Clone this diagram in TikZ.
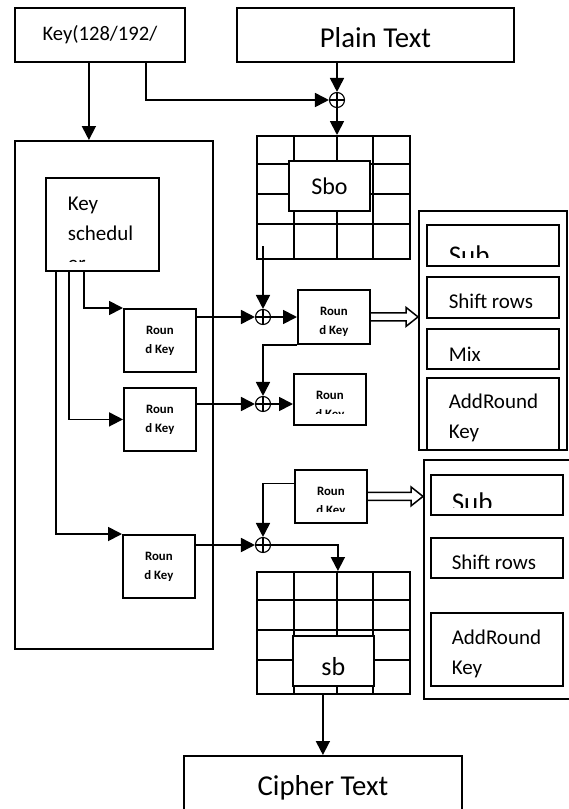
\documentclass[tikz,border=0pt]{standalone}
\usepackage{fontspec}
\setmainfont{Carlito}
\usetikzlibrary{arrows.meta, calc}

% text inside a box, cut off #2 above its lower edge, top left corner at (#3,#4) from the box corner
\newcommand\cliptext[5][10.5]{%
  \clip ([yshift=#2]path picture bounding box.south west) rectangle (path picture bounding box.north east);
  \node[anchor=north west, inner sep=0pt, minimum size=0pt, align=left, font=\fontsize{#1}{15}\selectfont]
    (lbl) at ($(path picture bounding box.north west)+(#3,-#4)$) {#5};}

% outlined block arrow from #1 to the edge #2
\newcommand\hollowarrow[2]{%
  \coordinate (hatip) at (#1 -| #2);
  \draw[line width=0.75pt] ($(#1)+(0,2pt)$) -- ($(hatip)+(-6pt,2pt)$) -- ($(hatip)+(-6pt,4.75pt)$)
    -- (hatip) -- ($(hatip)+(-6pt,-4.75pt)$) -- ($(hatip)+(-6pt,-2pt)$) -- ($(#1)+(0,-2pt)$);}

\begin{document}
\begin{tikzpicture}[x=0.5pt, y=-0.5pt, line width=0.9pt,
  arr/.style={-{Triangle[length=7pt, width=7pt]}},
  box/.style={draw, anchor=north west, inner sep=0pt},
  big/.style={box, minimum width=#1, minimum height=27pt, text height=12.5pt, text depth=0pt,
    font=\fontsize{14.4}{17}\selectfont},
  stage/.style={box, minimum width=66pt, minimum height=#1},
  rkey/.style={box, minimum width=36pt, path picture={
    \clip ([yshift=#1]path picture bounding box.south west) rectangle (path picture bounding box.north east);
    \node[anchor=north, inner sep=0pt, minimum size=0pt, align=center, font=\fontsize{6.4}{9.5}\selectfont\bfseries]
      (lbl) at ($(path picture bounding box.north)+(0,-8pt)$) {Roun\\d Key};}},
  rkey/.default=0pt,
  xor/.style={circle, draw, line width=0.55pt, minimum size=7.5pt, inner sep=0pt, path picture={
    \draw[line width=0.55pt] (path picture bounding box.north) -- (path picture bounding box.south)
      (path picture bounding box.west) -- (path picture bounding box.east);}}]

  \useasboundingbox (0,0) rectangle (568,809);

  % inputs
  \node[box, minimum width=85pt, minimum height=27pt, font=\fontsize{10.3}{12}\selectfont] (key) at (14,7) {Key(128/192/};
  \node[big=138.5pt] (plain) at (236,7) {Plain Text};

  % key schedule and its round keys
  \node[box, minimum width=99pt, minimum height=254pt] (ksframe) at (14,140) {};
  \node[box, minimum width=56.5pt, minimum height=46.5pt,
    path picture={\cliptext{4.5pt}{10.5pt}{9pt}{Key\\schedul\\er}}] (ks) at (45,177) {};
  \node[rkey, minimum height=31.5pt] (rk1) at (123,308) {};
  \node[rkey, minimum height=31.5pt] (rk2) at (123,387) {};
  \node[rkey, minimum height=31.5pt] (rk3) at (122,534) {};

  % state before the first round
  \node[box, minimum width=76.5pt, minimum height=61.5pt] (grid1) at (256,135) {};
  \foreach \cx in {294,337,373} \draw (\cx,135) -- (\cx,258);
  \foreach \cy in {164,194,224} \draw (256,\cy) -- (409,\cy);
  \node[box, fill=white, minimum width=40.5pt, minimum height=25pt, font=\fontsize{12}{14}\selectfont] (sbo) at (288,160) {Sbo};

  % state after the last round
  \node[box, minimum width=76.5pt, minimum height=61pt] (grid2) at (256,571) {};
  \foreach \cx in {294,337,373} \draw (\cx,571) -- (\cx,693);
  \foreach \cy in {600,630,660} \draw (256,\cy) -- (409,\cy);
  \node[box, fill=white, minimum width=40.5pt, minimum height=25pt, text height=14.4pt, text depth=0pt,
    font=\fontsize{13}{15}\selectfont] (sb) at (292,635) {sb};

  % xor points
  \node[xor] (x1) at (337,100) {};
  \node[xor] (x2) at (263,317) {};
  \node[xor] (x3) at (263,404) {};
  \node[xor] (x4) at (263,545) {};

  \node[rkey, minimum height=27pt] (rk4) at (297,289) {};
  \node[rkey=5.5pt, minimum height=25.5pt] (rk5) at (293,373) {};
  \node[rkey=5.5pt, minimum height=26.5pt] (rk6) at (294,469) {};

  % round steps
  \node[box, minimum width=74pt, minimum height=119.5pt] (p1) at (418,210) {};
  \node[stage=20.5pt, path picture={\cliptext[13.5]{4pt}{10.5pt}{10pt}{Sub}}] (sub1) at (426,224) {};
  \node[stage=20.5pt, path picture={\cliptext{0pt}{10.5pt}{8pt}{Shift rows}}] (shift1) at (426,276) {};
  \node[stage=20pt, path picture={\cliptext{0pt}{10.5pt}{8.8pt}{Mix}}] (mix1) at (426,328) {};
  \node[stage=36pt, path picture={\cliptext{0pt}{10.5pt}{7.8pt}{AddRound\\Key}}] (add1) at (426,377) {};

  % last round, no Mix
  \node[box, minimum width=100pt, minimum height=119.5pt] (p2) at (423,459) {};
  \node[stage=20pt, path picture={\cliptext[13.5]{3.5pt}{10pt}{8.5pt}{Sub}}] (sub2) at (430,474) {};
  \node[stage=20pt, path picture={\cliptext{0pt}{10pt}{8pt}{Shift rows}}] (shift2) at (430,537) {};
  \node[stage=36.5pt, path picture={\cliptext{0pt}{10pt}{8pt}{AddRound\\Key}}] (add2) at (430,612) {};

  \node[big=139pt] (cipher) at (183,755) {Cipher Text};

  % connectors
  \coordinate (keyout) at ([xshift=-5.5pt]key.south);
  \coordinate (keytap) at ([xshift=23pt]key.south);
  \coordinate (g1out) at (263,246);
  \draw[arr] (keyout) -- (keyout |- ksframe.north);
  \draw[arr] (keytap) |- (x1.west);
  \draw[arr] (plain.south -| x1) -- (x1.north);
  \draw[arr] (x1.south) -- (x1.south |- grid1.north);
  \draw[arr] (g1out) -- (x2.north);

  \draw[arr] ([xshift=-9.25pt]ks.south) |- (rk1.north west);
  \draw[arr] ([xshift=-16.75pt]ks.south) |- (rk2.west);
  \draw[arr] ([xshift=-23.25pt]ks.south) |- (rk3.north west);

  \draw[arr] (rk1.east |- x2) -- (x2.west);
  \draw[arr] (x2.east) -- (x2 -| rk4.west);
  \draw[arr] (rk4.south west) -| (x3.north);
  \draw[arr] (rk2.east |- x3) -- (x3.west);
  \draw[arr] (x3.east) -- (x3 -| rk5.west);
  \draw[arr] (rk3.east |- x4) -- (x4.west);
  \draw[arr] ([yshift=6.5pt]rk6.west) -| (x4.north);
  \draw[arr] (x4.east) -| ([xshift=2.25pt]grid2.north);
  \draw[arr] (cipher.north |- grid2.south) -- (cipher.north);

  \hollowarrow{rk4.east}{p1.west}
  \hollowarrow{rk6.east}{p2.west}
\end{tikzpicture}
\end{document}
